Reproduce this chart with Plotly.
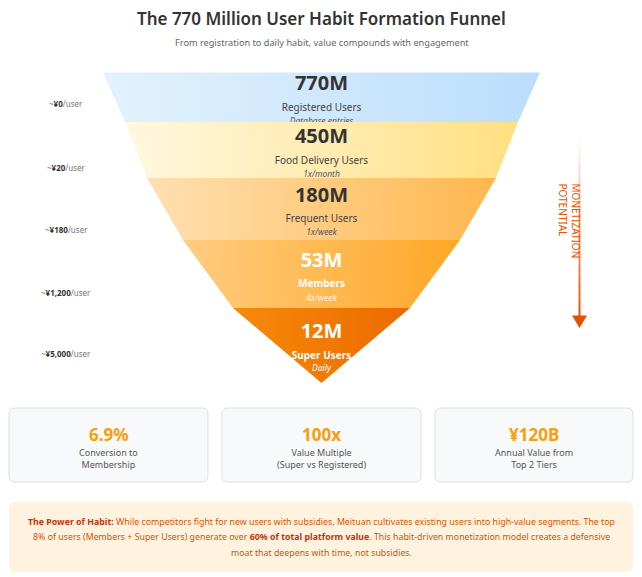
import plotly.graph_objects as go

# ---------------- DATA ----------------
tier_values_m = [770, 450, 180, 53, 12]          # users, millions
tier_names = ["Registered Users", "Food Delivery Users", "Frequent Users", "Members", "Super Users"]
tier_freq = ["Database entries", "1x/month", "1x/week", "4x/week", "Daily"]
value_per_user = ["¥0", "¥20", "¥180", "¥1,200", "¥5,000"]
metric_values = ["6.9%", "100x", "¥120B"]
metric_labels = [["Conversion to", "Membership"],
                 ["Value Multiple", "(Super vs Registered)"],
                 ["Annual Value from", "Top 2 Tiers"]]
title_text = "The 770 Million User Habit Formation Funnel"
subtitle_text = "From registration to daily habit, value compounds with engagement"
note_lines = [
    "<span style='color:#bf360c'><b>The Power of Habit:</b></span> While competitors fight for new users with subsidies, Meituan cultivates existing users into high-value segments. The top",
    "8% of users (Members + Super Users) generate over <span style='color:#bf360c'><b>60% of total platform value</b></span>. This habit-driven monetization model creates a defensive",
    "moat that deepens with time, not subsidies.",
]

# ---------------- LAYOUT / STYLE ----------------
W, H = 642, 577
FONT = "Noto Sans"
cx = 321.5
edge_y = [72.5, 122, 178, 240, 308, 383]
edge_half = [218.5, 196.5, 174.5, 138.5, 88.5, 0]
tier_grad = [("#e3f2fd", "#bbdefb"), ("#fff8e1", "#ffe082"), ("#ffe0b2", "#ffb74d"),
             ("#ffcc80", "#ffa726"), ("#f78a0a", "#ec6a00")]
num_y = [85, 138, 197, 262, 333]
lab_y = [108, 161, 219, 284, 356]
desc_y = [121.5, 175, 233, 299, 369]
num_col = ["#333333", "#333333", "#333333", "#ffffff", "#ffffff"]
lab_col = ["#444444", "#444444", "#444444", "#ffffff", "#ffffff"]
desc_col = ["#555555", "#555555", "#555555", "rgba(255,255,255,0.85)", "#ffffff"]
left_y = [103, 167, 229, 292, 353]
card_x = [(9, 208), (222, 421), (435, 633)]
card_y = (408, 482)

fig = go.Figure()

for i in range(len(tier_values_m)):
    x0l, x0r = cx - edge_half[i], cx + edge_half[i]
    x1l, x1r = cx - edge_half[i + 1], cx + edge_half[i + 1]
    fig.add_trace(go.Scatter(
        x=[x0l, x0r, x1r, x1l, x0l], y=[edge_y[i], edge_y[i], edge_y[i + 1], edge_y[i + 1], edge_y[i]],
        mode="lines", line=dict(width=0), fill="toself",
        fillgradient=dict(type="horizontal", start=x0l, stop=x0r,
                          colorscale=[[0, tier_grad[i][0]], [1, tier_grad[i][1]]]),
        hoverinfo="skip", showlegend=False))
    bold_lab = i >= 3
    fig.add_trace(go.Scatter(
        x=[cx, cx, cx], y=[num_y[i], lab_y[i], desc_y[i]], mode="text",
        text=[f"<b>{tier_values_m[i]}M</b>",
              f"<b>{tier_names[i]}</b>" if bold_lab else tier_names[i],
              f"<i>{tier_freq[i]}</i>"],
        textfont=dict(family=FONT, size=[20, 10, 8.5], color=[num_col[i], lab_col[i], desc_col[i]]),
        textposition="middle center", cliponaxis=False, hoverinfo="skip", showlegend=False))

# monetization arrow
fig.add_trace(go.Scatter(
    x=[578.5, 580.5, 580.5, 578.5, 578.5], y=[135, 135, 318, 318, 135],
    mode="lines", line=dict(width=0), fill="toself",
    fillgradient=dict(type="vertical", start=135, stop=318,
                      colorscale=[[0, "rgba(230,81,0,0)"], [1, "#e65100"]]),
    hoverinfo="skip", showlegend=False))
fig.add_trace(go.Scatter(
    x=[572, 587, 579.5, 572], y=[315.5, 315.5, 328, 315.5], mode="lines",
    line=dict(width=0), fill="toself", fillcolor="#e65100", hoverinfo="skip", showlegend=False))

def rrect(x0, y0, x1, y1, r):
    return (f"M{x0+r},{y0} L{x1-r},{y0} Q{x1},{y0} {x1},{y0+r} L{x1},{y1-r} Q{x1},{y1} {x1-r},{y1} "
            f"L{x0+r},{y1} Q{x0},{y1} {x0},{y1-r} L{x0},{y0+r} Q{x0},{y0} {x0+r},{y0} Z")

shapes = []
for (a, b) in card_x:
    shapes.append(dict(type="path", path=rrect(a, card_y[0], b, card_y[1], 6),
                       fillcolor="#f8f9fa", line=dict(color="#dcdfe3", width=1), layer="below"))
shapes.append(dict(type="path", path=rrect(9, 502, 633, 572, 6),
                   fillcolor="#fff3e0", line=dict(width=0), layer="below"))

ann = []
ann.append(dict(x=cx, y=18, text=title_text, showarrow=False,
                font=dict(family=FONT, size=17, color="#333333", weight=600)))
ann.append(dict(x=cx, y=42, text=subtitle_text, showarrow=False,
                font=dict(family=FONT, size=9.2, color="#666666")))
for i, v in enumerate(value_per_user):
    ann.append(dict(x=66, y=left_y[i], text=f"~<span style='color:#333'><b>{v}</b></span>/user",
                    showarrow=False, font=dict(family=FONT, size=8, color="#777777")))
ann.append(dict(x=569.5, y=221, text="MONETIZATION<br>POTENTIAL", textangle=90, align="left",
                showarrow=False, xanchor="center", yanchor="middle",
                font=dict(family=FONT, size=10, color="#e65100")))
for k, (a, b) in enumerate(card_x):
    mx = (a + b) / 2
    ann.append(dict(x=mx, y=434, text=f"<b>{metric_values[k]}</b>", showarrow=False,
                    font=dict(family=FONT, size=17, color="#f5a00f")))
    ann.append(dict(x=mx, y=458.5, text="<br>".join(metric_labels[k]), showarrow=False,
                    font=dict(family=FONT, size=9, color="#555555")))
for j, line in enumerate(note_lines):
    ann.append(dict(x=cx, y=522 + 15.3 * j, text=line, showarrow=False,
                    font=dict(family=FONT, size=8.8, color="#d35400")))
for a_ in ann:
    a_.update(xref="x", yref="y")

fig.update_layout(
    width=W, height=H, margin=dict(l=0, r=0, t=0, b=0),
    paper_bgcolor="#ffffff", plot_bgcolor="#ffffff",
    xaxis=dict(range=[0, W], visible=False, fixedrange=True),
    yaxis=dict(range=[H, 0], visible=False, fixedrange=True),
    shapes=shapes, annotations=ann, showlegend=False,
)
fig.write_html("out.html", config={"displayModeBar": False},
               post_script="document.body.style.margin='0';document.body.style.overflow='hidden';")
